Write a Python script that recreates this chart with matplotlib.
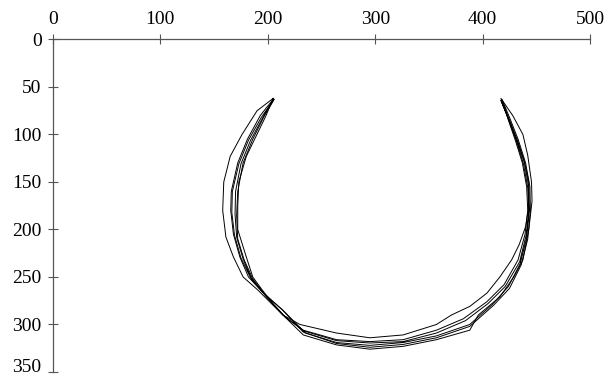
import matplotlib.pyplot as plt
import matplotlib.transforms as mtransforms
import numpy as np

plt.rcParams['font.family'] = ['Liberation Serif', 'DejaVu Serif']

x_ticks = [0, 100, 200, 300, 400, 500]
y_ticks = [0, 50, 100, 150, 200, 250, 300, 350]

# contour loops, (x, y) in data units
# outer edge runs left tip -> bottom -> right tip, inner edge runs back
level1_outer = [(205, 62), (190, 75), (176, 100), (165, 123), (159, 150), (158, 180),
                (161, 208), (168, 229), (177, 250), (191, 264), (206, 281), (233, 311),
                (264, 321.5), (295, 326), (326, 323), (357, 316), (388, 306), (396, 290),
                (416, 271), (429, 250), (437.5, 232), (443, 200), (446, 170), (445.5, 150),
                (442, 122), (437.5, 100), (428, 80), (417, 62)]
level1_inner = [(417, 62), (425.5, 86), (433, 108), (439, 129), (443, 150), (443, 175),
                (440, 197), (434, 216), (427, 232), (416, 250), (404, 267), (388, 281),
                (371, 290), (357, 300), (326, 311), (295, 314), (264, 309), (230, 300),
                (214, 290), (206, 280), (195, 264), (186, 250), (180, 229), (172, 200),
                (172, 176), (173, 150), (180, 123), (186, 109), (198, 81), (205, 62)]

level2_outer = [(205, 63), (193, 80), (181, 105), (172, 130), (166, 160), (165.5, 180),
                (168, 205), (174, 229), (182, 250), (195, 266), (213, 284), (233, 308),
                (264, 320), (295, 324), (326, 321), (357, 314), (388, 302), (410, 280),
                (425, 262), (436, 237), (442, 210), (444.5, 180), (444, 155), (440, 130),
                (433, 105), (425, 82), (418, 63)]
level2_inner = [(418, 63), (424, 85), (431, 108), (437, 130), (441, 155), (442, 180),
                (439.5, 205), (433, 232), (420, 258), (404, 276), (382, 294), (357, 306),
                (326, 316), (295, 318), (264, 316), (233, 306), (216, 292), (198, 270),
                (186, 252), (178, 232), (172, 210), (171, 185), (172, 160), (177, 130),
                (186, 105), (197, 80), (206, 63)]

level3_outer = [(205, 64), (194, 82), (182, 106), (173, 131), (167, 160), (166.5, 182),
                (169, 206), (175, 230), (184, 251), (197, 268), (215, 286), (235, 309),
                (264, 319), (295, 322), (326, 319), (357, 312), (388, 300), (409, 279),
                (424, 260), (435, 236), (441, 209), (443.5, 180), (443, 155), (439, 130),
                (432, 106), (424, 84), (417, 64)]
level3_inner = [(417, 64), (425, 86), (432, 109), (438, 131), (442, 156), (443, 180),
                (440.5, 206), (434.5, 234), (421, 260), (405, 278), (384, 296), (357, 309),
                (326, 318), (295, 319.5), (264, 317), (234, 307), (217, 293), (199, 271),
                (185, 252), (177, 231), (171, 208), (169.5, 184), (170, 160), (175, 131),
                (184, 106), (196, 81), (205, 64)]

loops = [(level1_outer, level1_inner),
         (level2_outer, level2_inner),
         (level3_outer, level3_inner)]

fig = plt.figure(figsize=(6.11, 3.77), dpi=100)
ax = fig.add_axes([0.0867, 0.0133, 0.879, 0.882])

for outer, inner in loops:
    pts = np.array(outer + inner)
    ax.plot(pts[:, 0], pts[:, 1], color='black', lw=0.7)

ax.set_xlim(0, 500)
ax.set_ylim(350, 0)
ax.set_xticks(x_ticks)
ax.set_yticks(y_ticks)
ax.xaxis.tick_top()
for side in ['right', 'bottom']:
    ax.spines[side].set_visible(False)
for side in ['left', 'top']:
    ax.spines[side].set_color('#555555')
    ax.spines[side].set_linewidth(0.9)
ax.tick_params(direction='inout', length=6.5, width=0.8, color='#555555',
               labelsize=14, labelcolor='black', pad=5)

# the bottom label sits right on the figure edge, lift it a bit
last = ax.get_yticklabels()[-1]
last.set_transform(last.get_transform() +
                   mtransforms.ScaledTranslation(0, 5 / 72, fig.dpi_scale_trans))

fig.savefig('out.png', dpi=100)
